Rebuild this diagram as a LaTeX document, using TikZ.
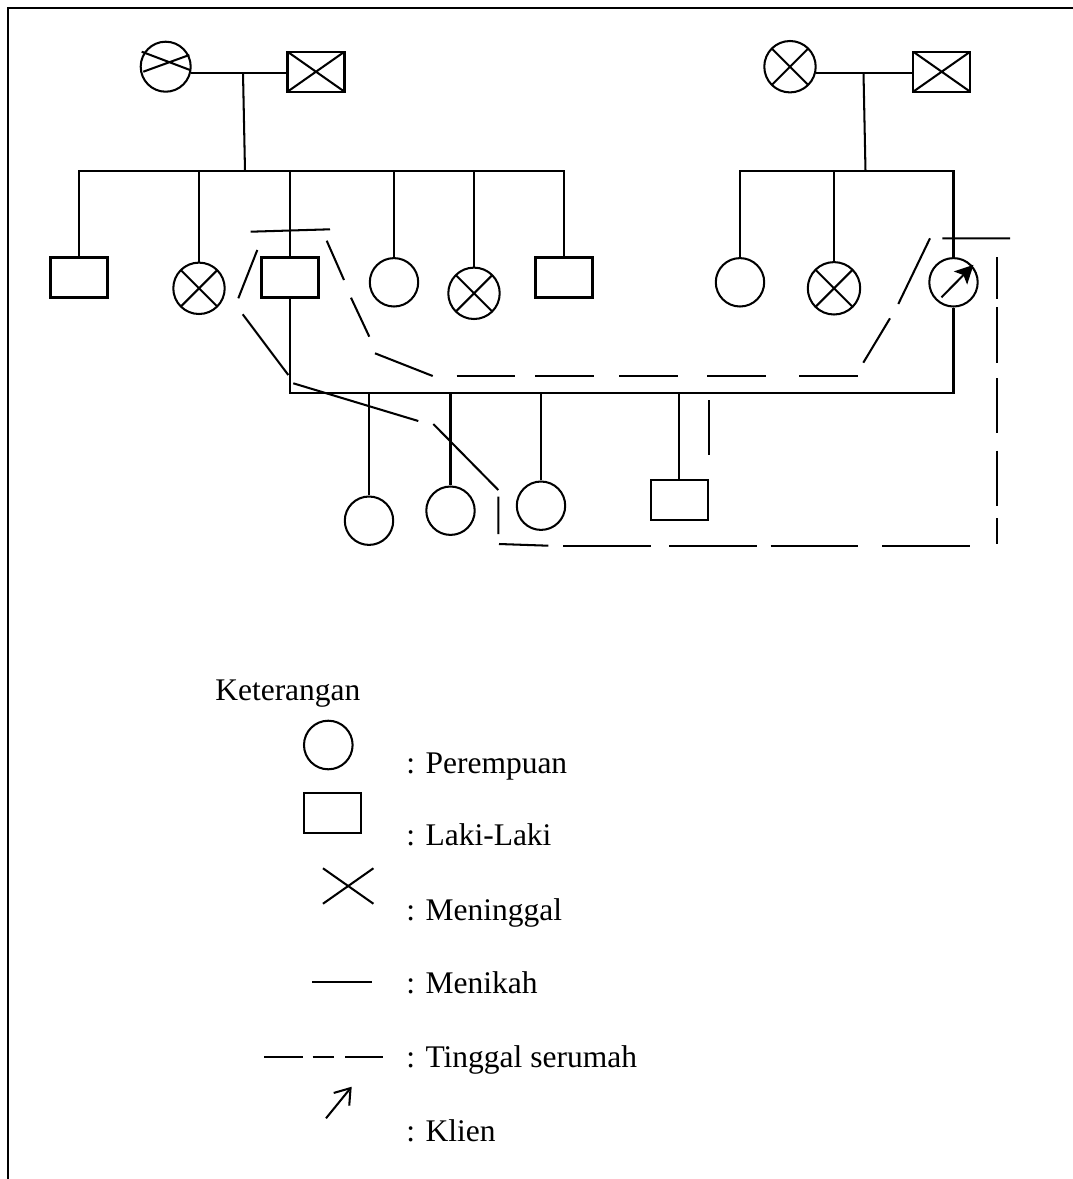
\documentclass[tikz,border=0pt]{standalone}
\usepackage{fontspec}
\setmainfont{Liberation Serif}
\usetikzlibrary{arrows.meta,calc,shapes.misc}
\tikzset{
  female/.style={circle, draw, line width=1.45pt, minimum size=1.21cm, inner sep=0pt},
  male/.style={rectangle, draw, line width=1.45pt,
    minimum width=1.425cm, minimum height=1cm, inner sep=0pt},
  dead/.style={path picture={
    \draw[line width=1.45pt]
      (path picture bounding box.south west) -- (path picture bounding box.north east)
      (path picture bounding box.north west) -- (path picture bounding box.south east);}},
  femaledead/.style={female, minimum size=1.285cm, dead},
  link/.style={line width=1.45pt},
  house/.style={line width=1.45pt},
  legendtext/.style={anchor=base west, inner sep=0pt, font=\fontsize{22.4}{27}\selectfont},
}
\begin{document}
\begin{tikzpicture}[x=0.025cm, y=-0.025cm]
  \useasboundingbox (0,0) rectangle (1073,1179);
  \draw[line width=1.7pt] (7.8,1179) -- (7.8,7.8) -- (1073,7.8);

  % grandparents, left side
  \node[female, minimum size=1.25cm] (gm1) at (165.7,66.7) {};
  \draw[link] ($(gm1)+(-24,-15)$) -- ($(gm1)+(24.3,3.3)$)
              ($(gm1)+(-22.4,5)$) -- ($(gm1)+(23.6,-11.7)$);
  \node[male, dead] (gf1) at (316,71.7) {};
  \draw[link] (gm1.-15) -- (gm1.-15 -| gf1.west);
  \coordinate (mA) at (243,72.7);
  \coordinate (sibA) at (245,171);
  \draw[link] (mA) -- (sibA);

  % grandparents, right side
  \node[femaledead] (gm2) at (790,66.7) {};
  \node[male, dead] (gf2) at (941.7,71.7) {};
  \draw[link] (gm2.-14) -- (gm2.-14 -| gf2.west);
  \coordinate (mB) at (863.5,72.7);
  \coordinate (sibB) at (865.5,171);
  \draw[link] (mB) -- (sibB);

  % children, left side
  \node[male]       (c1) at (79,277.5) {};
  \node[femaledead] (c2) at (199,288.3) {};
  \node[male]       (c3) at (290,277.5) {};
  \node[female]     (c4) at (394,282.3) {};
  \node[femaledead] (c5) at (474,293.3) {};
  \node[male]       (c6) at (564,277.5) {};
  \draw[link] (c1.north) |- (sibA) -| (c6.north);
  \foreach \k in {c2,c3,c4,c5}
    \draw[link] (\k.north) -- (\k.north |- sibA);

  % children, right side
  \node[female]                        (d1)    at (740,282.3) {};
  \node[femaledead, minimum size=1.31cm] (d2)  at (834,288.3) {};
  \node[female]                        (klien) at (953.5,282.3) {};
  \draw[-{Stealth[length=4.6mm, width=4.6mm, inset=1mm]}, line width=1.45pt]
    ($(klien)+(-12,15)$) -- ($(klien)+(20,-17.5)$);
  \draw[link] (d1.north) |- (sibB) -| (klien.north);
  \draw[link] (d2.north) -- (d2.north |- sibB);

  % marriage and grandchildren
  \coordinate (mC) at (620,393.3);
  \draw[link] (c3.south) |- (mC) -| (klien.south);
  \node[female] (g1) at (369,520.7) {};
  \node[female] (g2) at (450.5,510.7) {};
  \node[female] (g3) at (541,505.7) {};
  \node[male]   (g4) at (679.3,499.7) {};
  \foreach \k in {g1,g2,g3,g4}
    \draw[link] (\k.north) -- (\k.north |- mC);
  \draw[link] ($(g4.north east)+(0,-24)$) -- ++(0,-55);

  % living in one house
  \draw[house]
    (250.7,231.7) -- (330,229.3)
    (326.7,240.7) -- (344,280)
    (351,297.7) -- (369.3,336.7)
    (375,353.3) -- (432.7,376)
    (863.3,362.7) -- (890,318.3)
    (898.3,304) -- (930,238.3)
    (942.3,238.3) -- (1010,238.3)
    (548.3,545.7) -- (499,544)
    (498.3,534) -- (498.3,496.7)
    (498.3,490) -- (433.3,424)
    (418.3,421) -- (293.3,383.3)
    (288.3,375) -- (242.7,314.3)
    (238.3,298.3) -- (257.3,250);
  \foreach \a/\b in {456.7/515, 535/594.3, 619.3/678.3, 707.3/766.3, 799/858.3}
    \draw[house] (\a,376) -- (\b,376);
  \foreach \a/\b in {257.3/299.3, 307.3/363.3, 378.3/433.3, 450.7/506, 518.3/544}
    \draw[house] (996.7,\a) -- (996.7,\b);
  \foreach \a/\b in {563.3/651, 669.3/756.7, 770.7/858.3, 882.3/970}
    \draw[house] (\a,545.7) -- (\b,545.7);

  % legend
  \node[legendtext] (ket) at (215,700) {Keterangan};
  \node[female, minimum size=1.215cm] (lgF) at (328.3,745) {};
  \node[legendtext] (tF) at (406,773.3) {: Perempuan};
  \node[male] (lgM) at (332.3,813.3) {};
  \node[legendtext] (tM) at (406,845.7) {: Laki-Laki};
  \node[cross out, draw, line width=1.45pt, minimum width=1.21cm,
        minimum height=0.835cm, inner sep=0pt] (lgX) at (348.2,886) {};
  \node[legendtext] (tX) at (406,920) {: Meninggal};
  \coordinate (lgL1) at (312.3,982.3);
  \coordinate (lgL2) at (371.7,982.3);
  \draw[link] (lgL1) -- (lgL2);
  \node[legendtext] (tL) at (406,993.3) {: Menikah};
  \draw[house] (264,1057.3) -- (303.3,1057.3) (312.7,1057.3) -- (334,1057.3)
               (345,1057.3) -- (383.3,1057.3);
  \node[legendtext] (tH) at (406,1067.3) {: Tinggal serumah};
  \coordinate (lgA1) at (326,1118.3);
  \coordinate (lgA2) at (351.7,1086.7);
  \draw[link, -{Straight Barb[length=3.6mm, width=5mm]}] (lgA1) -- (lgA2);
  \node[legendtext] (tK) at (406,1141.7) {: Klien};
\end{tikzpicture}
\end{document}
